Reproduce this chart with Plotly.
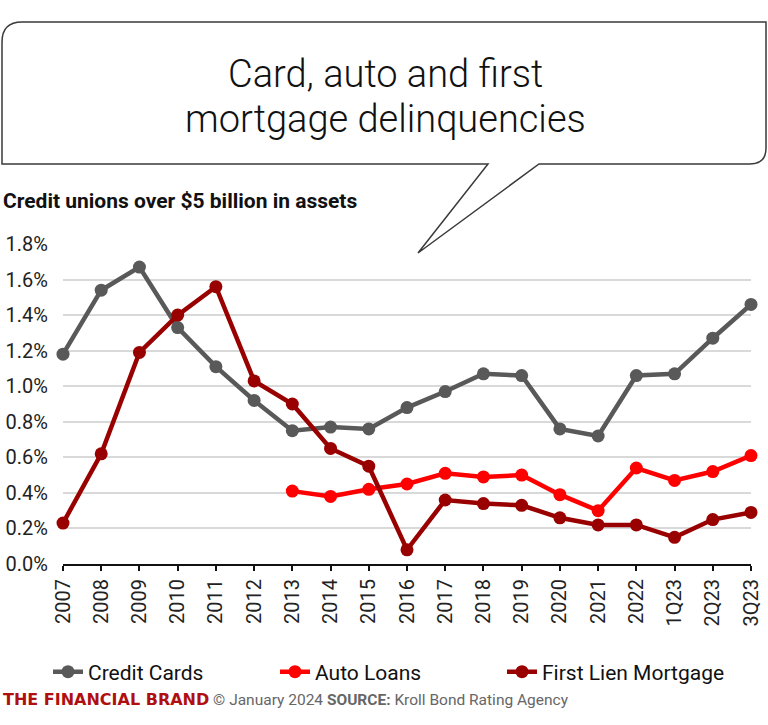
import plotly.graph_objects as go

categories = ["2007", "2008", "2009", "2010", "2011", "2012", "2013", "2014", "2015",
              "2016", "2017", "2018", "2019", "2020", "2021", "2022", "1Q23", "2Q23", "3Q23"]
credit_cards = [1.18, 1.54, 1.67, 1.33, 1.11, 0.92, 0.75, 0.77, 0.76,
                0.88, 0.97, 1.07, 1.06, 0.76, 0.72, 1.06, 1.07, 1.27, 1.46]
auto_loans = [None, None, None, None, None, None, 0.41, 0.38, 0.42,
              0.45, 0.51, 0.49, 0.50, 0.39, 0.30, 0.54, 0.47, 0.52, 0.61]
first_lien = [0.23, 0.62, 1.19, 1.40, 1.56, 1.03, 0.90, 0.65, 0.55,
              0.08, 0.36, 0.34, 0.33, 0.26, 0.22, 0.22, 0.15, 0.25, 0.29]
y_ticks = [0.0, 0.2, 0.4, 0.6, 0.8, 1.0, 1.2, 1.4, 1.6, 1.8]

series = [
    ("Credit Cards", credit_cards, "#595959"),
    ("Auto Loans", auto_loans, "#ff0000"),
    ("First Lien Mortgage", first_lien, "#990000"),
]

W, H = 768, 725
L, R, T, B = 63, 17, 244, 161
PW, PH = W - L - R, H - T - B

def px(x):
    return (x - L) / PW

def py(y):
    return (H - B - y) / PH

FONT = "Roboto"

fig = go.Figure()
for name, vals, col in series:
    fig.add_trace(go.Scatter(
        x=categories, y=vals, name=name, mode="lines+markers",
        line=dict(color=col, width=4.5),
        marker=dict(color=col, size=13),
        cliponaxis=False, connectgaps=False,
    ))

# speech bubble
def P(x, y):
    return f"{px(x):.5f},{py(y):.5f}"
path = (f"M {P(2,42)} Q {P(2,22)} {P(22,22)} L {P(766,22)} L {P(766,148)} "
        f"Q {P(766,164)} {P(750,164)} L {P(539,164)} L {P(418,253)} L {P(488,164)} "
        f"L {P(2,164)} Z")
fig.add_shape(type="path", path=path, xref="paper", yref="paper",
              line=dict(color="#3a3a3a", width=1.5), fillcolor="rgba(255,255,255,0)",
              layer="above")

for txt, yy in [("Card, auto and first", 74), ("mortgage delinquencies", 119)]:
    fig.add_annotation(
        text=txt, x=px(385), y=py(yy), xref="paper", yref="paper",
        xanchor="center", yanchor="middle", showarrow=False,
        font=dict(family=FONT, size=38, color="#111111", weight=300),
    )
fig.add_annotation(
    text="<b>Credit unions over $5 billion in assets</b>",
    x=px(1), y=py(201), xref="paper", yref="paper",
    xanchor="left", yanchor="middle", showarrow=False,
    font=dict(family=FONT, size=21, color="#111111"),
)
fig.add_annotation(
    text=("<span style='color:#b00f0f; font-family:DejaVu Sans; font-size:16px'><b>THE FINANCIAL BRAND</b></span>"
          " © January 2024 <b>SOURCE:</b> Kroll Bond Rating Agency"),
    x=px(1), y=py(699), xref="paper", yref="paper",
    xanchor="left", yanchor="middle", showarrow=False,
    font=dict(family=FONT, size=15.5, color="#666666"),
)

fig.update_layout(
    width=W, height=H,
    margin=dict(l=L, r=R, t=T, b=B, autoexpand=False),
    paper_bgcolor="white", plot_bgcolor="white",
    font=dict(family=FONT, color="#222222"),
    showlegend=True,
    legend=dict(
        orientation="h", x=px(48), xanchor="left", y=py(672), yanchor="middle",
        font=dict(family=FONT, size=21, color="#111111"),
        entrywidth=182, entrywidthmode="pixels",
        itemclick=False, itemdoubleclick=False,
    ),
    xaxis=dict(
        type="category", range=[0, len(categories) - 1],
        showgrid=False, zeroline=False,
        showline=True, linecolor="#111111", linewidth=2,
        ticks="outside", ticklen=5, tickcolor="#111111", tickwidth=1.5,
        tickangle=-90, tickfont=dict(family=FONT, size=20, color="#222222"),
        automargin=False,
    ),
    yaxis=dict(
        range=[0, 1.8], tickvals=y_ticks, ticktext=[f"{v:.1f}%" for v in y_ticks],
        showgrid=True, gridcolor="#d9d9d9", gridwidth=2,
        zeroline=False, showline=False, ticks="",
        ticklabelstandoff=14,
        tickfont=dict(family=FONT, size=20, color="#222222"),
        automargin=False,
    ),
)

fig.write_html("out.html")
